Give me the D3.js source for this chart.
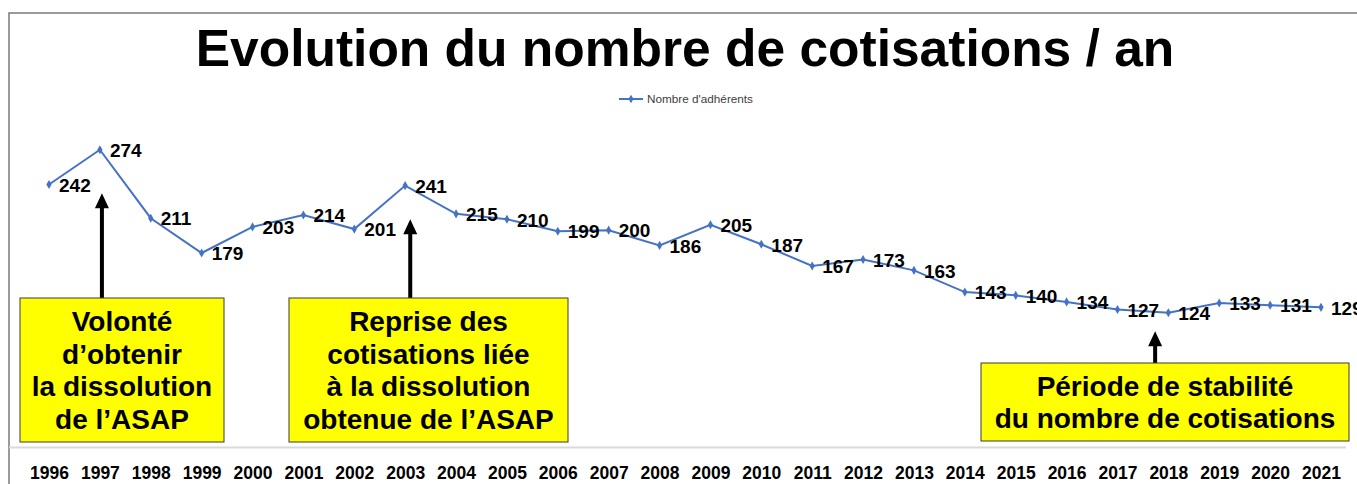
<!DOCTYPE html>
<html>
<head>
<meta charset="utf-8">
<script src="https://cdn.jsdelivr.net/npm/d3@7/dist/d3.min.js"></script>
<style>
  body { margin: 0; background: #fff; }
  svg { display: block; font-family: "Liberation Sans", Arial, sans-serif; }
</style>
</head>
<body>
<svg id="chart" width="1357" height="484"></svg>
<script>
// donnees
var years = [1996, 1997, 1998, 1999, 2000, 2001, 2002, 2003, 2004, 2005, 2006, 2007, 2008,
             2009, 2010, 2011, 2012, 2013, 2014, 2015, 2016, 2017, 2018, 2019, 2020, 2021]
var adherents = [242, 274, 211, 179, 203, 214, 201, 241, 215, 210, 199, 200, 186,
                 205, 187, 167, 173, 163, 143, 140, 134, 127, 124, 133, 131, 129]
var seriesName = "Nombre d'adhérents"
var title = "Evolution du nombre de cotisations / an"
var noteTexts = [
    ["Volonté", "d’obtenir", "la dissolution", "de l’ASAP"],
    ["Reprise des", "cotisations liée", "à la dissolution", "obtenue de l’ASAP"],
    ["Période de stabilité", "du nombre de cotisations"]
]
var noteYears = [1997.04, 2003.1, 2017.74]
var noteTips = [234, 210, 107]

!(function(){
    "use strict"

    var svg = d3.select("#chart")
    var blue = "#4472C4"

    var x = d3.scaleLinear().domain([1996, 2021]).range([49, 1321])
    var y = d3.scaleLinear().domain([0, 300]).range([447.5, 121.5])

    // cadre
    svg.append("path")
        .attr("d", "M9,484V13H1357")
        .attr("fill", "none")
        .attr("stroke", "#7a7a7a")
        .attr("stroke-width", 1.5)

    svg.append("text")
        .attr("x", 685).attr("y", 66)
        .attr("text-anchor", "middle")
        .attr("font-size", 51.5).attr("font-weight", "bold")
        .attr("fill", "#000")
        .text(title)

    // legende
    var leg = svg.append("g").attr("transform", "translate(619,99)")
    leg.append("line").attr("x1", 0).attr("x2", 24)
        .attr("stroke", blue).attr("stroke-width", 2)
    leg.append("path").attr("d", d3.symbol(d3.symbolDiamond, 22)())
        .attr("transform", "translate(12,0)").attr("fill", blue)
    leg.append("text").attr("x", 28).attr("y", 4)
        .attr("font-size", 11).attr("fill", "#404040")
        .attr("textLength", 106).attr("lengthAdjust", "spacingAndGlyphs")
        .text(seriesName)

    // axe x
    var xAxis = svg.append("g")
        .attr("transform", "translate(0," + y(0) + ")")
        .call(d3.axisBottom(x).tickValues(years).tickFormat(d3.format("d")).tickSize(0).tickPadding(19))
    xAxis.select(".domain").remove()
    xAxis.append("line").attr("x1", 9).attr("x2", 1346)
        .attr("stroke", "#d9d9d9").attr("stroke-width", 2)
    xAxis.selectAll(".tick text")
        .attr("font-size", 17.5).attr("font-weight", "bold")
        .attr("font-family", "'Liberation Sans', Arial, sans-serif")
        .attr("fill", "#000")

    // annotations
    var boxes = [
        {x0: 20, x1: 224, y0: 298, y1: 442},
        {x0: 289, x1: 568, y0: 298, y1: 442},
        {x0: 981, x1: 1349, y0: 363, y1: 441}
    ]
    noteTexts.forEach(function(lines, i) {
        var b = boxes[i]
        var ax = x(noteYears[i]), tip = y(noteTips[i])
        svg.append("path")
            .attr("d", "M" + (ax - 2) + "," + b.y0 + "V" + (tip + 15) + "H" + (ax - 7) +
                "L" + ax + "," + tip + "L" + (ax + 7) + "," + (tip + 15) + "H" + (ax + 2) + "V" + b.y0 + "Z")
            .attr("fill", "#000")
        svg.append("rect")
            .attr("x", b.x0).attr("y", b.y0)
            .attr("width", b.x1 - b.x0).attr("height", b.y1 - b.y0)
            .attr("fill", "#ffff00").attr("stroke", "#3a3a3a").attr("stroke-width", 1)
        var cy = (b.y0 + b.y1) / 2
        var first = cy - (lines.length - 1) * 32.5 / 2 + 9.8
        svg.append("g").selectAll("text").data(lines).enter().append("text")
            .attr("x", (b.x0 + b.x1) / 2)
            .attr("y", function(d, j) { return first + j * 32.5 })
            .attr("text-anchor", "middle")
            .attr("font-size", 28).attr("font-weight", "bold")
            .attr("fill", "#000")
            .text(function(d) { return d })
    })

    // serie
    var pts = years.map(function(yr, i) { return {year: yr, v: adherents[i]} })
    var line = d3.line().x(function(d) { return x(d.year) }).y(function(d) { return y(d.v) })

    svg.append("path").datum(pts)
        .attr("d", line)
        .attr("fill", "none")
        .attr("stroke", blue).attr("stroke-width", 2)

    svg.append("g").selectAll("path").data(pts).enter().append("path")
        .attr("d", d3.symbol(d3.symbolDiamond, 24)())
        .attr("transform", function(d) { return "translate(" + x(d.year) + "," + y(d.v) + ")" })
        .attr("fill", blue)

    svg.append("g").selectAll("text").data(pts).enter().append("text")
        .attr("x", function(d) { return x(d.year) + 10 })
        .attr("y", function(d) { return y(d.v) })
        .attr("dy", "0.38em")
        .attr("font-size", 19).attr("font-weight", "bold")
        .attr("fill", "#000")
        .text(function(d) { return d.v })
}());
</script>
</body>
</html>
